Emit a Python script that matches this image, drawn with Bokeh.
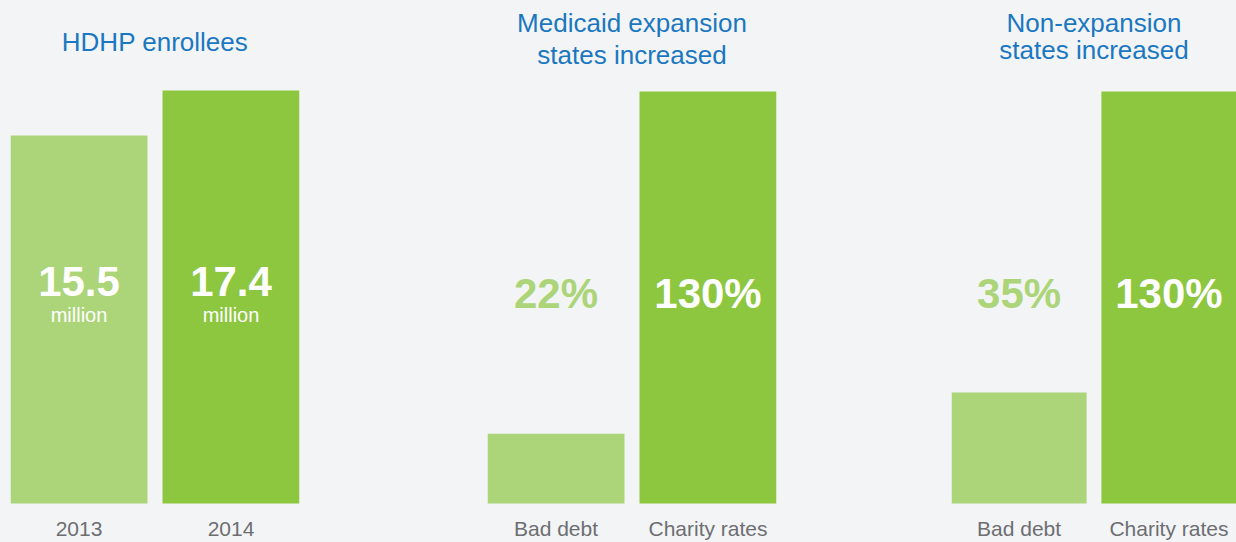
from bokeh.plotting import figure
from bokeh.layouts import row
from bokeh.models import ColumnDataSource, FactorRange, Range1d
from bokeh.core.properties import value
from bokeh.embed import file_html
from bokeh.resources import INLINE

# ---------------- data ----------------
hdhp_years = ["2013", "2014"]
hdhp_enrollees_millions = [15.5, 17.4]
hdhp_value_labels = ["15.5", "17.4"]
hdhp_unit = "million"

debt_categories = ["Bad debt", "Charity rates"]
medicaid_expansion_increase = [22, 130]
non_expansion_increase = [35, 130]
medicaid_value_labels = ["22%", "130%"]
non_expansion_value_labels = ["35%", "130%"]

title_hdhp = ["HDHP enrollees"]
title_medicaid = ["Medicaid expansion", "states increased"]
title_non_expansion = ["Non-expansion", "states increased"]

# ---------------- style ----------------
BG = "#f3f4f6"
LIGHT = "#acd479"
DARK = "#8dc63f"
BLUE = "#1b78c0"
GRAY = "#6d6e71"
WHITE = "#ffffff"
FONT = "Liberation Sans"

FIG_H = 542
BASE_REF = 503           # bar bottom (pixels from top of the canvas)
BAR_PX, GAP_PX = 137, 15
FACTOR_PAD = GAP_PX / BAR_PX
CAT_LABEL_MID = 528


def make_panel(cats, vals, labels, label_colors, title_lines, title_mids,
               number_mid, top_ref, left, frame_w, right,
               sub_label=None, sub_mid=None):
    scale = max(vals) / (BASE_REF - top_ref)   # data units per pixel

    def yref(r):
        return (BASE_REF - r) * scale

    p = figure(
        x_range=FactorRange(*cats, range_padding=0, factor_padding=FACTOR_PAD),
        y_range=Range1d(yref(FIG_H), yref(0)),
        width=left + frame_w + right, height=FIG_H,
        min_border_left=left, min_border_right=right,
        min_border_top=0, min_border_bottom=0,
        x_axis_location=None, y_axis_location=None,
        output_backend="svg", toolbar_location=None,
        background_fill_color=BG, border_fill_color=BG,
        outline_line_color=None,
    )
    p.grid.grid_line_color = None

    src = ColumnDataSource(dict(cat=cats, val=vals, color=[LIGHT, DARK],
                                label=labels, label_color=label_colors))
    p.vbar(x="cat", top="val", bottom=0, width=1.0, color="color", line_color=None,
           source=src)

    # big value labels
    p.text(x="cat", y=yref(number_mid), text="label", text_color="label_color",
           text_font=value(FONT), text_font_style="bold", text_font_size="42px",
           text_align="center", text_baseline="middle", source=src)

    if sub_label is not None:
        p.text(x=cats, y=[yref(sub_mid)] * len(cats), text=[sub_label] * len(cats),
               text_color=WHITE, text_font=value(FONT), text_font_size="20px",
               text_align="center", text_baseline="middle")

    # category labels under the bars
    p.text(x=cats, y=[yref(CAT_LABEL_MID)] * len(cats), text=cats,
           text_color=GRAY, text_font=value(FONT), text_font_size="21px",
           text_align="center", text_baseline="middle")

    # panel title
    center = (len(cats) + FACTOR_PAD * (len(cats) - 1)) / 2
    p.text(x=[center] * len(title_lines), y=[yref(m) for m in title_mids],
           text=title_lines, text_color=BLUE, text_font=value(FONT),
           text_font_size="26px", text_align="center", text_baseline="middle")
    return p


p1 = make_panel(hdhp_years, hdhp_enrollees_millions, hdhp_value_labels, [WHITE, WHITE],
                title_hdhp, [41.5], 281, 90, left=10, frame_w=289, right=90,
                sub_label=hdhp_unit, sub_mid=314.5)
p2 = make_panel(debt_categories, medicaid_expansion_increase, medicaid_value_labels,
                [LIGHT, WHITE], title_medicaid, [22.5, 54], 293, 91,
                left=98, frame_w=289, right=80)
p3 = make_panel(debt_categories, non_expansion_increase, non_expansion_value_labels,
                [LIGHT, WHITE], title_non_expansion, [22.5, 49], 293, 91,
                left=95, frame_w=285, right=0)

layout = row(p1, p2, p3, styles={"background-color": BG})
open("out.html", "w").write(file_html(layout, INLINE))
